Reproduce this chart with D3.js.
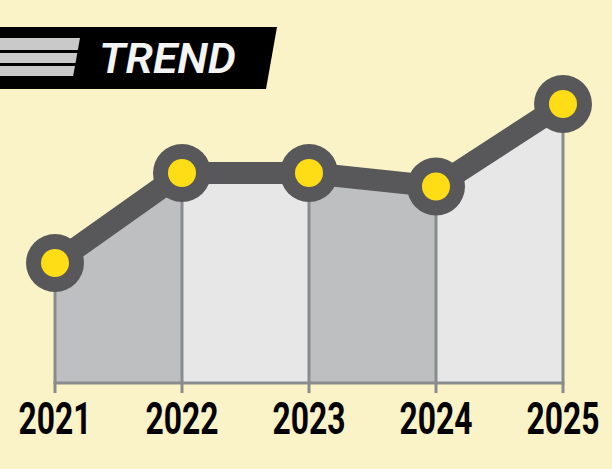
<!DOCTYPE html>
<html><head><meta charset="utf-8">
<script src="https://cdn.jsdelivr.net/npm/d3@7"></script>
<style>html,body{margin:0;padding:0;background:#faf3c7;}svg{display:block;}</style>
</head><body>
<script>
const years = ["2021","2022","2023","2024","2025"];
const values = [40, 70, 70, 65.5, 93];
const title = "TREND";

const W = 612, H = 469;
const svg = d3.select("body").append("svg").attr("width", W).attr("height", H);
svg.append("rect").attr("width", W).attr("height", H).attr("fill", "#faf3c7");

const x = d3.scalePoint().domain(years).range([55, 563]);
const y = d3.scaleLinear().domain([0, 100]).range([383, 83]);
const data = years.map((yr, i) => ({yr, v: values[i]}));

// alternating area segments
const area = d3.area().x(d => x(d.yr)).y0(y(0)).y1(d => y(d.v));
for (let i = 0; i < data.length - 1; i++) {
  svg.append("path").datum([data[i], data[i+1]])
    .attr("d", area).attr("fill", i % 2 === 0 ? "#bebfc1" : "#e7e7e8");
}
// vertical lines / ticks
svg.selectAll("line.v").data(data).enter().append("line")
  .attr("x1", d => x(d.yr)).attr("x2", d => x(d.yr))
  .attr("y1", d => y(d.v)).attr("y2", y(0) + 10)
  .attr("stroke", "#8a8b8d").attr("stroke-width", 3);
svg.append("line").attr("x1", x(years[0]) - 1.5).attr("x2", x(years[years.length-1]) + 1.5)
  .attr("y1", y(0)).attr("y2", y(0)).attr("stroke", "#8a8b8d").attr("stroke-width", 3);

// line
svg.append("path").datum(data)
  .attr("d", d3.line().x(d => x(d.yr)).y(d => y(d.v)))
  .attr("fill", "none").attr("stroke", "#58585a").attr("stroke-width", 22);
svg.selectAll("circle.o").data(data).enter().append("circle")
  .attr("cx", d => x(d.yr)).attr("cy", d => y(d.v)).attr("r", 29).attr("fill", "#58585a");
svg.selectAll("circle.i").data(data).enter().append("circle")
  .attr("cx", d => x(d.yr)).attr("cy", d => y(d.v)).attr("r", 14).attr("fill", "#fedd16");

// fit a text horizontally by scaling its glyphs
function squeeze(sel, target) {
  sel.each(function() {
    const t = d3.select(this);
    const w = this.getComputedTextLength();
    const k = target / w;
    const tx = +t.attr("data-x"), ty = +t.attr("data-y");
    t.attr("transform", `translate(${tx},${ty}) scale(${k},1)`);
  });
}

// axis labels
const labels = svg.selectAll("text.yr").data(years).enter().append("text")
  .attr("class", "yr")
  .attr("data-x", d => x(d)).attr("data-y", 434).attr("text-anchor", "middle")
  .attr("font-family", "Roboto, 'DejaVu Sans', sans-serif")
  .attr("font-weight", "bold").attr("font-size", 45)
  .attr("fill", "#000").text(d => d);
squeeze(labels, 73);

// header
svg.append("polygon").attr("points", "0,27 277,27 266,89 0,89").attr("fill", "#000");
const stripes = [[38, 50], [53, 63], [66, 76]];
stripes.forEach(([a, b]) => {
  const xr = t => 80 - (t - 38) * 0.18;
  svg.append("polygon").attr("points", `0,${a} ${xr(a)},${a} ${xr(b)},${b} 0,${b}`).attr("fill", "#c9c9c9");
});
const tt = svg.append("text").attr("data-x", 99).attr("data-y", 73)
  .attr("font-family", "Roboto, 'DejaVu Sans', sans-serif")
  .attr("font-weight", 600).attr("font-style", "italic").attr("font-size", 42)
  .attr("fill", "#f4f4f4").text(title);
squeeze(tt, 137);
</script>
</body></html>
